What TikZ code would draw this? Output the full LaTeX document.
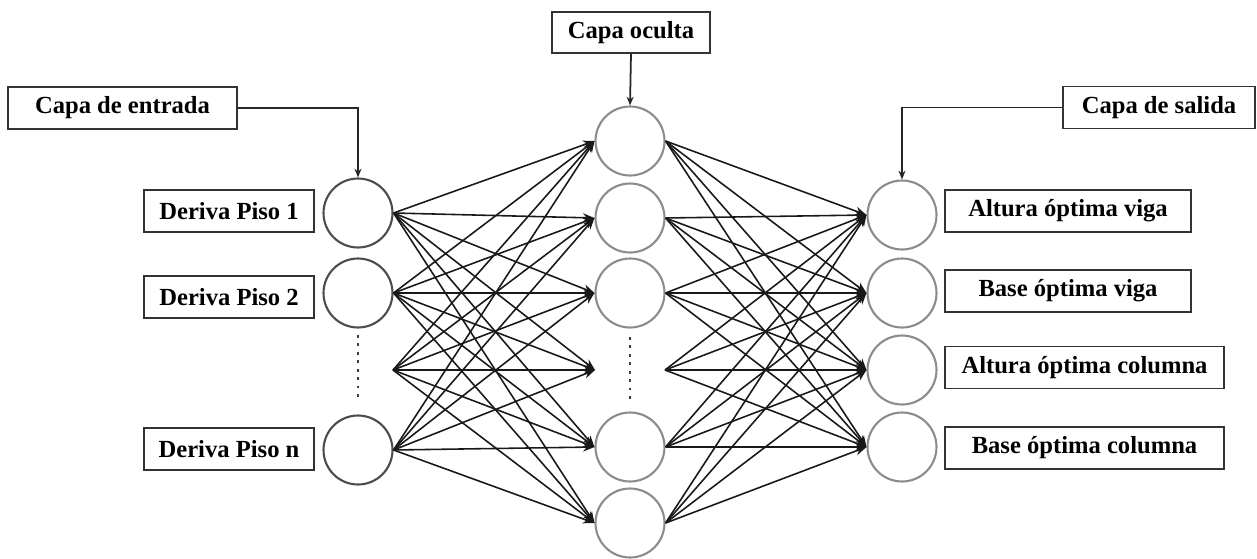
\documentclass[tikz,border=0pt]{standalone}
\usepackage{fontspec}
\setmainfont{Liberation Serif}
\usetikzlibrary{arrows.meta}
\begin{document}
\begin{tikzpicture}[x=0.02cm,y=-0.02cm,
  neuron/.style={circle,draw=black!45,line width=1.2pt,minimum size=1.38cm,inner sep=0pt},
  inneuron/.style={neuron,draw=black!70},
  textbox/.style={draw=black!80,line width=1pt,minimum height=0.84cm,inner sep=0pt,
    font=\bfseries\fontsize{14}{16}\selectfont},
  link/.style={black!90,line width=0.9pt,-{Stealth[length=6.5pt,width=5pt]}},
  pointer/.style={black!85,line width=1pt,-{Stealth[length=5pt,width=4pt]}},
  dots/.style={black!75,line width=1.6pt,dash pattern=on 1.6pt off 3.2pt}]
\useasboundingbox (0,0) rectangle (1257,558);
% input layer
\node[inneuron] (i1) at (358,213) {};
\node[inneuron] (i2) at (358,293) {};
\node[inneuron] (in) at (358,450) {};
\coordinate (iv) at (393,370);
\draw[dots] (358,335) -- (358,402);
% hidden layer
\node[neuron] (h1) at (630,141) {};
\node[neuron] (h2) at (630,218) {};
\node[neuron] (h3) at (630,293) {};
\node[neuron] (h4) at (630,447) {};
\node[neuron] (h5) at (630,523) {};
\coordinate (hvl) at (595,370);
\coordinate (hvr) at (665,370);
\draw[dots] (630,337) -- (630,402);
% output layer
\node[neuron] (o1) at (902,215) {};
\node[neuron] (o2) at (902,293) {};
\node[neuron] (o3) at (902,370) {};
\node[neuron] (o4) at (902,447) {};
% links
\foreach \a in {i1.east,i2.east,iv,in.east}
  \foreach \b in {h1.west,h2.west,h3.west,hvl,h4.west,h5.west}
    \draw[link] (\a) -- (\b);
\foreach \a in {h1.east,h2.east,h3.east,hvr,h4.east,h5.east}
  \foreach \b in {o1,o2,o3,o4}
    \draw[link] (\a) -- (\b.west);
% labels
\node[textbox,minimum width=4.58cm] (entrada) at (122.5,108) {Capa de entrada};
\node[textbox,minimum width=3.16cm,minimum height=0.82cm] (oculta) at (631,32.5) {Capa oculta};
\node[textbox,minimum width=3.84cm] (salida) at (1159,107.5) {Capa de salida};
\node[textbox,minimum width=3.4cm] (d1) at (229,211) {Deriva Piso 1};
\node[textbox,minimum width=3.4cm] (d2) at (229,297) {Deriva Piso 2};
\node[textbox,minimum width=3.4cm] (dn) at (229,449) {Deriva Piso n};
\node[textbox,minimum width=4.92cm] (a1) at (1068,211) {Altura óptima viga};
\node[textbox,minimum width=4.92cm] (a2) at (1068,291) {Base óptima viga};
\node[textbox,minimum width=5.58cm] (a3) at (1084.5,367.5) {Altura óptima columna};
\node[textbox,minimum width=5.58cm] (a4) at (1084.5,448) {Base óptima columna};
% pointers
\draw[pointer] (entrada.east) -| (i1.north);
\draw[pointer] (oculta.south) -- (h1.north);
\draw[pointer] (salida.west) -| (o1.north);
\end{tikzpicture}
\end{document}
